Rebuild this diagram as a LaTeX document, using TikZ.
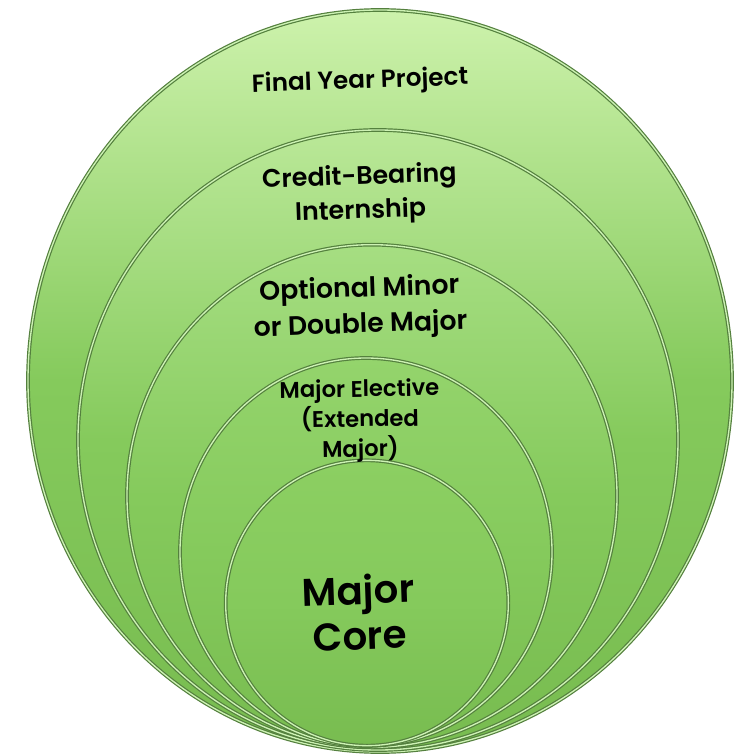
\documentclass[tikz,border=0pt]{standalone}
\usepackage{fontspec}
\setmainfont{Poppins}[BoldFont={Poppins SemiBold}]
\usepackage{xcolor}
\usepackage{tikz}
\definecolor{ringedge}{RGB}{84,128,62}
\definecolor{ringglow}{RGB}{205,242,180}
\definecolor{topfyp}{RGB}{205,242,172}
\definecolor{topcbi}{RGB}{186,232,152}
\definecolor{topmin}{RGB}{166,222,130}
\definecolor{topele}{RGB}{148,212,108}
\definecolor{topcore}{RGB}{140,207,98}
\definecolor{ringmiddle}{RGB}{133,202,92}
\definecolor{ringbottom}{RGB}{120,188,80}
\usetikzlibrary{shapes.geometric, positioning}

\begin{document}
\begin{tikzpicture}[
        x=0.75pt, y=-0.75pt,
        ring/.style={ellipse, inner sep=0pt, draw=ringedge, line width=0.9pt, double=ringglow, double distance=1pt, middle color=ringmiddle, bottom color=ringbottom},
        lbl/.style={font=\bfseries\fontsize{18.5}{25.5}\selectfont, align=center, text=black, rotate=2}
    ]
        \useasboundingbox (0,0) rectangle (733,755);

        \node[ring, top color=topfyp, middle color=ringmiddle, minimum width=528pt, minimum height=556.5pt] (fyp) at (380,381) {};
        \node[ring, top color=topcbi, middle color=ringmiddle, minimum width=450pt, minimum height=465pt] (cbi) at (378,440) {};
        \node[ring, top color=topmin, middle color=ringmiddle, minimum width=367.5pt, minimum height=377pt] (minor) at (372,496) {};
        \node[ring, top color=topele, middle color=ringmiddle, minimum width=279pt, minimum height=291pt] (elective) at (366,552) {};
        \node[ring, top color=topcore, middle color=ringmiddle, minimum width=212pt, minimum height=214pt] (core) at (367,603) {};

        \node[lbl] (tfyp) at (360,82) {Final Year Project};
        \node[lbl, font=\bfseries\fontsize{19}{25.5}\selectfont] (tcbi) at (360,195) {Credit-Bearing\\Internship};
        \node[lbl, font=\bfseries\fontsize{20}{27}\selectfont] (tminor) at (360,308) {Optional Minor\\or Double Major};
        \node[lbl, font=\bfseries\fontsize{17}{22.5}\selectfont, rotate=-1] (telective) at (360,421) {Major Elective\\(Extended\\Major)};
        \node[lbl, font=\bfseries\fontsize{29}{34}\selectfont, rotate=0] (tcore) at (359,612) {Major\\Core};

    \end{tikzpicture}
\end{document}
